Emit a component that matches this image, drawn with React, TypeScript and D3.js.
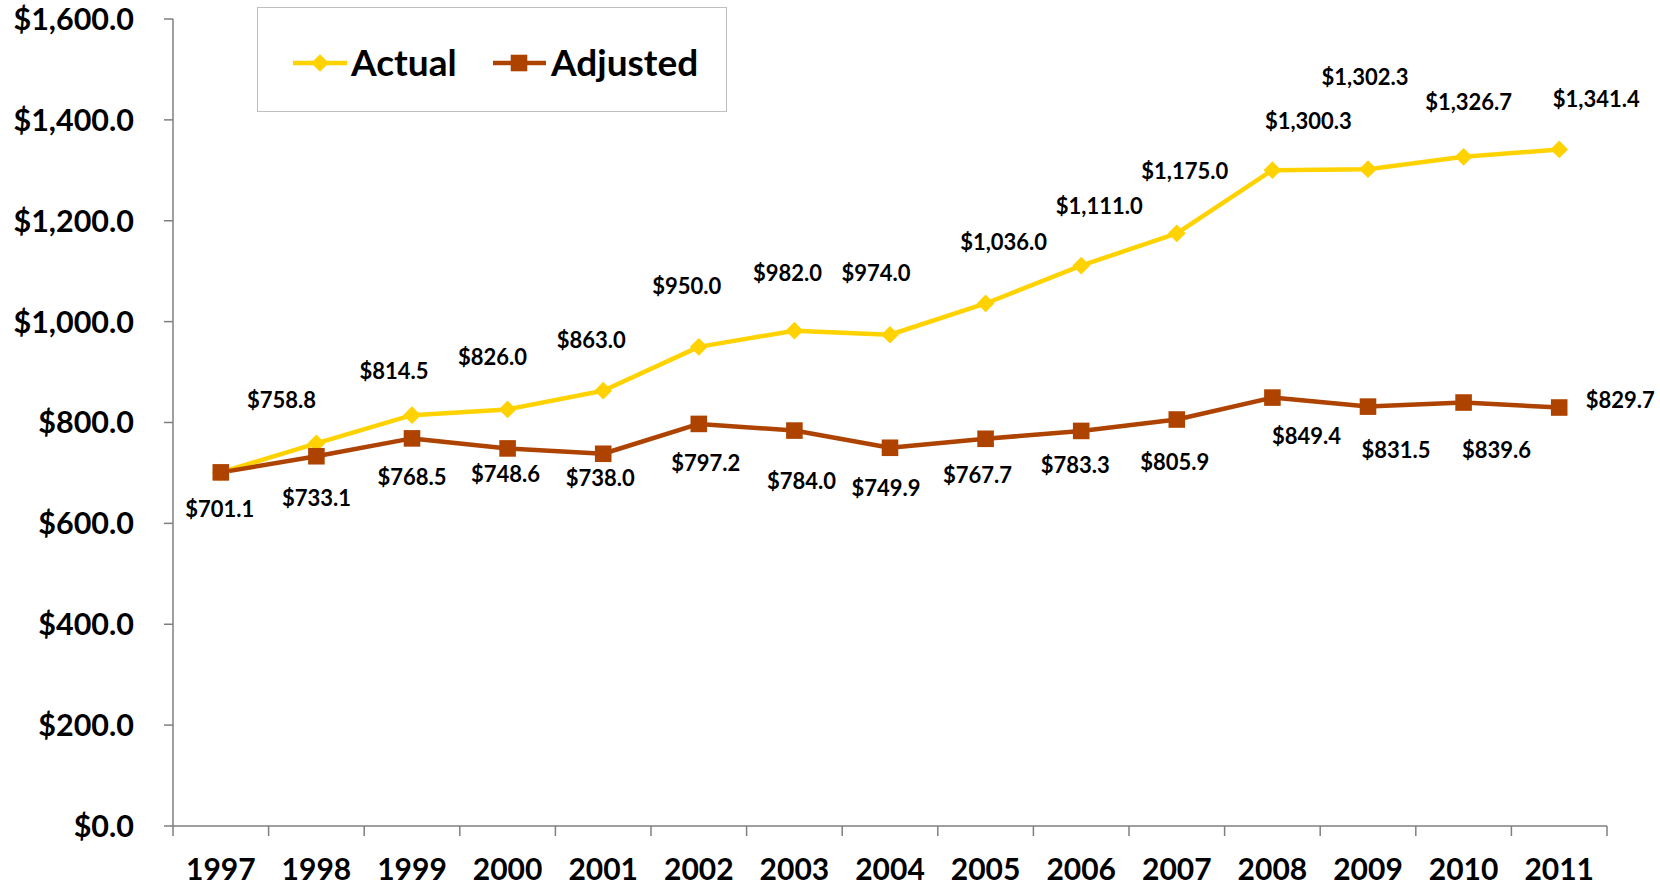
import React from "react";
import * as d3 from "d3";

// chart data
const years = ["1997", "1998", "1999", "2000", "2001", "2002", "2003", "2004", "2005", "2006", "2007", "2008", "2009", "2010", "2011"];
const actual = [701.1, 758.8, 814.5, 826.0, 863.0, 950.0, 982.0, 974.0, 1036.0, 1111.0, 1175.0, 1300.3, 1302.3, 1326.7, 1341.4];
const adjusted = [701.1, 733.1, 768.5, 748.6, 738.0, 797.2, 784.0, 749.9, 767.7, 783.3, 805.9, 849.4, 831.5, 839.6, 829.7];
const yTicks = [0, 200, 400, 600, 800, 1000, 1200, 1400, 1600];

// where the labels sit relative to their point (dragged by hand in the original)
const actualLabelOffset: ([number, number] | null)[] = [
  null, [-35, -43], [-18, -44], [-15, -52], [-12, -51], [-12, -61], [-7, -58], [-14, -62],
  [18, -61], [18, -60], [8, -62], [36, -49], [-3, -92], [5, -55], [37, -50],
];
const adjustedLabelOffset: [number, number][] = [
  [-1, 37], [0, 42], [0, 39], [-2, 26], [-3, 24], [7, 39], [7, 51], [-4, 40],
  [-8, 36], [-6, 34], [-2, 43], [34, 38], [28, 43], [33, 48], [61, -7],
];

const W = 1660;
const H = 886;
const margin = { left: 173, right: 53, top: 19, bottom: 60 };
const FONT = "Lato, 'Open Sans', sans-serif";
const YELLOW = "#FFD200";
const BROWN = "#AE4300";

const money = (v: number) => "$" + d3.format(",.1f")(v);

export default function App() {
  const x = d3.scaleBand().domain(years).range([margin.left, W - margin.right]);
  const y = d3.scaleLinear().domain([0, 1600]).range([H - margin.bottom, margin.top]);
  const cx = (i: number) => (x(years[i]) as number) + x.bandwidth() / 2;

  const line = d3.line<number>().x((_, i) => cx(i)).y((d) => y(d));
  const diamond = d3.symbol().type(d3.symbolDiamond2).size(200)();
  const square = d3.symbol().type(d3.symbolSquare).size(275)();
  const axisColor = "#7f7f7f";
  const y0 = y(0);

  return (
    <svg width={W} height={H} style={{ position: "absolute", left: 0, top: 0, background: "#fff" }} fontFamily={FONT}>
      {/* y axis */}
      <line x1={margin.left} x2={margin.left} y1={y(1600)} y2={y0} stroke={axisColor} strokeWidth={1.5} />
      {yTicks.map((t) => (
        <g key={t}>
          <line x1={margin.left - 9} x2={margin.left} y1={y(t)} y2={y(t)} stroke={axisColor} strokeWidth={1.5} />
          <text x={margin.left - 39} y={y(t)} dy="0.36em" textAnchor="end" fontSize={30.5} fontWeight={700}>
            {money(t)}
          </text>
        </g>
      ))}
      {/* x axis */}
      <line x1={margin.left} x2={W - margin.right} y1={y0} y2={y0} stroke={axisColor} strokeWidth={1.5} />
      {years.map((yr, i) => (
        <g key={yr}>
          <line x1={x(yr) as number} x2={x(yr) as number} y1={y0} y2={y0 + 10} stroke={axisColor} strokeWidth={1.5} />
          <text x={cx(i)} y={y0 + 43} dy="0.36em" textAnchor="middle" fontSize={30} fontWeight={700}>
            {yr}
          </text>
        </g>
      ))}
      <line x1={W - margin.right} x2={W - margin.right} y1={y0} y2={y0 + 10} stroke={axisColor} strokeWidth={1.5} />

      {/* series */}
      <path d={line(actual) || ""} fill="none" stroke={YELLOW} strokeWidth={4.5} strokeLinejoin="round" />
      <path d={line(adjusted) || ""} fill="none" stroke={BROWN} strokeWidth={4.5} strokeLinejoin="round" />
      {actual.map((v, i) => (
        <path key={"a" + i} d={diamond || ""} transform={`translate(${cx(i)},${y(v)})`} fill={YELLOW} />
      ))}
      {adjusted.map((v, i) => (
        <path key={"b" + i} d={square || ""} transform={`translate(${cx(i)},${y(v)})`} fill={BROWN} />
      ))}

      {/* data labels */}
      {actual.map((v, i) => {
        const off = actualLabelOffset[i];
        if (!off) return null;
        return (
          <text key={"la" + i} x={cx(i) + off[0]} y={y(v) + off[1]} dy="0.36em" textAnchor="middle" fontSize={22} fontWeight={700}>
            {money(v)}
          </text>
        );
      })}
      {adjusted.map((v, i) => {
        const off = adjustedLabelOffset[i];
        return (
          <text key={"lb" + i} x={cx(i) + off[0]} y={y(v) + off[1]} dy="0.36em" textAnchor="middle" fontSize={22} fontWeight={700}>
            {money(v)}
          </text>
        );
      })}

      {/* legend */}
      <rect x={257.5} y={7.5} width={469} height={104} fill="#fff" stroke="#bfbfbf" strokeWidth={1} />
      <line x1={293} x2={347} y1={63} y2={63} stroke={YELLOW} strokeWidth={4.5} />
      <path d={diamond || ""} transform="translate(320,63)" fill={YELLOW} />
      <text x={351} y={63} dy="0.36em" fontSize={37} fontWeight={700}>Actual</text>
      <line x1={493} x2={546} y1={63} y2={63} stroke={BROWN} strokeWidth={4.5} />
      <path d={square || ""} transform="translate(519,63)" fill={BROWN} />
      <text x={551} y={63} dy="0.36em" fontSize={37} fontWeight={700}>Adjusted</text>
    </svg>
  );
}
